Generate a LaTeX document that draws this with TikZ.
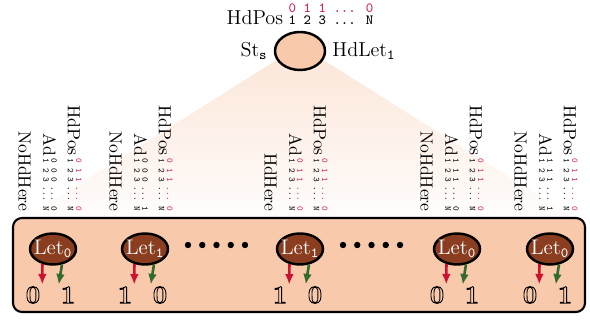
\documentclass[tikz,border=0pt]{standalone}
\usetikzlibrary{shapes.geometric,arrows.meta}

\definecolor{peach}{HTML}{F8C9AB}
\definecolor{letbrown}{HTML}{8B3E1F}
\definecolor{bitred}{HTML}{CC1133}
\definecolor{bitgreen}{HTML}{336B2E}
\definecolor{posred}{HTML}{D81B60}

%% hollow bit (outlined glyph)
\newcommand{\bitglyph}[1]{\special{pdf:literal direct 1 Tr 0.5 w}\textbf{#1}\special{pdf:literal direct 0 Tr}}
%% three dots in typewriter
\newcommand{\ttdots}{{.}{.}{.}}
%% two rows of bits: #1 size, #2 colour of the top row, #3 top row
\newcommand{\posbits}[3]{{#1\ttfamily\shortstack[l]{\textcolor{#2}{#3}\\[-1.5pt]1 2 3 \ttdots{} N}}}

\begin{document}
\begin{tikzpicture}
[x=0.2mm,y=-0.2mm,
  stateDecorate/.style={shape=ellipse,draw,line width=1.4pt,fill=peach,inner sep=0pt,
    minimum width=10mm,minimum height=7.6mm},%
  stateText/.style={font=\fontsize{11.5}{14}\selectfont},%
  letDecorate/.style={shape=ellipse,draw,line width=1.4pt,fill=letbrown,inner sep=0pt,
    minimum width=9.2mm,minimum height=6.2mm},%
  letText/.style={text=white,inner sep=0pt,font=\large},%
  boxDecorate/.style={draw,line width=1.2pt,fill=peach,rounded corners=1.8mm,
    minimum width=114.4mm,minimum height=18.8mm,inner sep=0pt},%
  groupDecorate/.style={rotate=-90,anchor=east,align=right,inner sep=0pt},%
  bitDecorate/.style={inner sep=1pt,font=\Large},%
  redArrow/.style={-{Latex[length=6pt,width=5pt]},line width=1.5pt,draw=bitred,fill=bitred},%
  greenArrow/.style={-{Latex[length=6pt,width=5pt]},line width=1.5pt,draw=bitgreen,fill=bitgreen}]
\useasboundingbox (0,0) rectangle (590,320);

%% fan from the state down to the letters
\shade[top color=peach!45,bottom color=peach!4] (280,58) -- (320,58) -- (575,218) -- (25,218) -- cycle;

%% the state
\node[stateDecorate,
  label={[stateText]left:St$_{\mathtt{s}}$},
  label={[stateText]right:HdLet$_{\mathtt{1}}$},
  label={[stateText]above:{HdPos\;\posbits{\footnotesize}{posred}{0 1 1 \ttdots{} 0}}}] (state) at (300,51) {};

%% box of letters
\node[boxDecorate] (letbox) at (299,265) {};

%% letters, arrows and bits
\foreach \nodename/\x/\sub/\lbit/\rbit in {let1/53/0/0/1, let2/145/1/1/0, let3/300/1/1/0, let4/457/0/0/1, let5/550/0/0/1}
{
  \node[letDecorate,label={[letText]center:Let$_{\mathtt{\sub}}$}] (\nodename) at (\x,249) {};
  \node[bitDecorate] (\nodename-l) at (\x-20,295) {\bitglyph{\lbit}};
  \node[bitDecorate] (\nodename-r) at (\x+15,295) {\bitglyph{\rbit}};
  \draw[redArrow] (\nodename.235) -- (\nodename-l.north east);
  \draw[greenArrow] (\nodename.300) -- (\nodename-r.north west);
}

%% dots
\foreach \gap in {188,343}
  \foreach \i in {0,1,2,3,4}
    \fill (\gap+\i*14.25,245) circle (3.2);

%% labels above the letters
\foreach \grpname/\x/\adcol/\adbits/\here in {grp1/50/black/0 0 0 \ttdots{} 0/NoHdHere,
  grp2/141/black/0 0 0 \ttdots{} 1/NoHdHere, grp3/296/posred/0 1 1 \ttdots{} 0/HdHere,
  grp4/452/black/1 1 1 \ttdots{} 0/NoHdHere, grp5/546/black/1 1 1 \ttdots{} 1/NoHdHere}
{
  \node[groupDecorate] (\grpname) at (\x,212)
    {HdPos\,\posbits{\tiny}{posred}{0 1 1 \ttdots{} 0}\\[2pt]
     Ad\,\posbits{\tiny}{\adcol}{\adbits}\\[2pt]
     \here};
}
\end{tikzpicture}
\end{document}
